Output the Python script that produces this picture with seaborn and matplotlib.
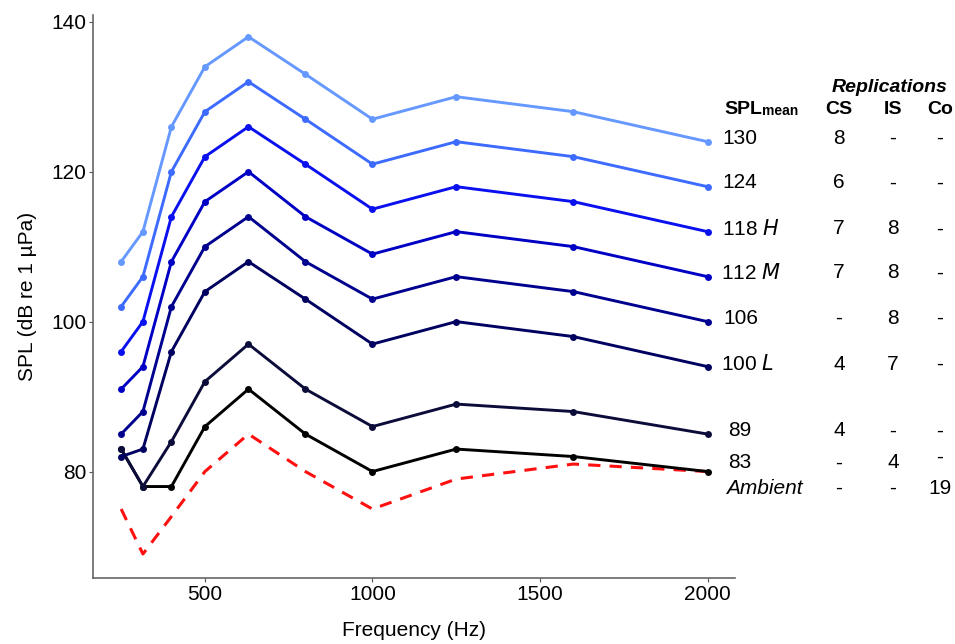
import pandas as pd
import numpy as np
import matplotlib
matplotlib.use("Agg")
import matplotlib.pyplot as plt
import seaborn as sns

# third-octave band centres (Hz)
freqs = [250, 315, 400, 500, 630, 800, 1000, 1250, 1600, 2000]

# SPL per band for each exposure level (dB re 1 uPa)
spl_130 = [108, 112, 126, 134, 138, 133, 127, 130, 128, 124]
spl_124 = [102, 106, 120, 128, 132, 127, 121, 124, 122, 118]
spl_118 = [96, 100, 114, 122, 126, 121, 115, 118, 116, 112]
spl_112 = [91, 94, 108, 116, 120, 114, 109, 112, 110, 106]
spl_106 = [85, 88, 102, 110, 114, 108, 103, 106, 104, 100]
spl_100 = [82, 83, 96, 104, 108, 103, 97, 100, 98, 94]
spl_89 = [83, 78, 84, 92, 97, 91, 86, 89, 88, 85]
spl_83 = [83, 78, 78, 86, 91, 85, 80, 83, 82, 80]
ambient = [75, 69, 74, 80, 85, 80, 75, 79, 81, 80]

levels = ['130', '124', '118', '112', '106', '100', '89', '83']
colors = ['#6699ff', '#3d6bff', '#0a10ee', '#0000c4', '#00008f', '#000060', '#0c0c3a', '#000000']

# replication table
row_labels = ['130', '124', '118 $\\it{H}$', '112 $\\it{M}$', '106', '100 $\\it{L}$', '89', '83']
cs = ['8', '6', '7', '7', '-', '4', '4', '-', '-']
is_ = ['-', '-', '8', '8', '8', '7', '-', '4', '-']
co = ['-', '-', '-', '-', '-', '-', '-', '-', '19']

series = [spl_130, spl_124, spl_118, spl_112, spl_106, spl_100, spl_89, spl_83]
rows = []
for lv, vals in zip(levels, series):
    for f, v in zip(freqs, vals):
        rows.append({'Frequency': f, 'SPL': v, 'Level': lv})
df = pd.DataFrame(rows)
df_amb = pd.DataFrame({'Frequency': freqs, 'SPL': ambient})

sns.set_style("ticks")
plt.rcParams['font.family'] = ['Liberation Sans', 'DejaVu Sans']
plt.rcParams['text.color'] = 'black'
plt.rcParams['axes.labelcolor'] = 'black'
plt.rcParams['xtick.labelcolor'] = 'black'
plt.rcParams['ytick.labelcolor'] = 'black'

W, H = 955, 644
fig = plt.figure(figsize=(W / 100, H / 100), dpi=100)
ax = fig.add_axes([93 / W, 1 - 578 / H, (735 - 93) / W, (578 - 15) / H])

sns.lineplot(data=df_amb, x='Frequency', y='SPL', color='#ff1010', lw=2.2,
             dashes=False, ax=ax, linestyle=(0, (4, 3)))
sns.lineplot(data=df, x='Frequency', y='SPL', hue='Level', hue_order=levels[::-1],
             palette=dict(zip(levels, colors)), marker='o', markersize=5,
             markeredgewidth=0, lw=2.1, ax=ax, legend=False)

ax.set_xlim(166, 2082)
ax.set_ylim(65.8, 140.9)
ax.set_xticks([500, 1000, 1500, 2000])
ax.set_yticks([80, 100, 120, 140])
ax.tick_params(labelsize=15, length=3, width=0.8, color='#555555', pad=2)
for s in ['top', 'right']:
    ax.spines[s].set_visible(False)
for s in ['left', 'bottom']:
    ax.spines[s].set_color('#666666')
    ax.spines[s].set_linewidth(1.2)
ax.set_xlabel('Frequency (Hz)', fontsize=15, labelpad=12)
ax.set_ylabel('SPL (dB re 1 µPa)', fontsize=15, labelpad=10)


def fx(px):
    return px / W


def fy(py):
    return 1 - py / H


# table on the right
fig.text(fx(890), fy(87), 'Replications', fontsize=14, fontweight='bold',
         fontstyle='italic', ha='center', va='center')
fig.text(fx(724), fy(109), 'SPL', fontsize=14, fontweight='bold', ha='left', va='center')
fig.text(fx(762), fy(111), 'mean', fontsize=10, fontweight='bold', ha='left', va='center')
for name, xc in zip(['CS', 'IS', 'Co'], [839, 893, 940]):
    fig.text(fx(xc), fy(109), name, fontsize=14, fontweight='bold', ha='center', va='center')

row_y = [138, 183, 229, 273, 318, 364, 431, 463, 488]
row_x = [722, 722, 722, 721, 723, 721, 728, 728, 726]
for i, lab in enumerate(row_labels):
    fig.text(fx(row_x[i]), fy(row_y[i]), lab, fontsize=15, ha='left', va='center')
fig.text(fx(row_x[8]), fy(row_y[8]), 'Ambient', fontsize=15, fontstyle='italic',
         ha='left', va='center')
for i in range(9):
    fig.text(fx(839), fy(row_y[i]), cs[i], fontsize=15, ha='center', va='center')
    fig.text(fx(893), fy(row_y[i]), is_[i], fontsize=15, ha='center', va='center')
    yco = row_y[i] - (6 if i == 7 else 0)
    fig.text(fx(940), fy(yco), co[i], fontsize=15, ha='center', va='center')

plt.savefig('out.png', dpi=100)
